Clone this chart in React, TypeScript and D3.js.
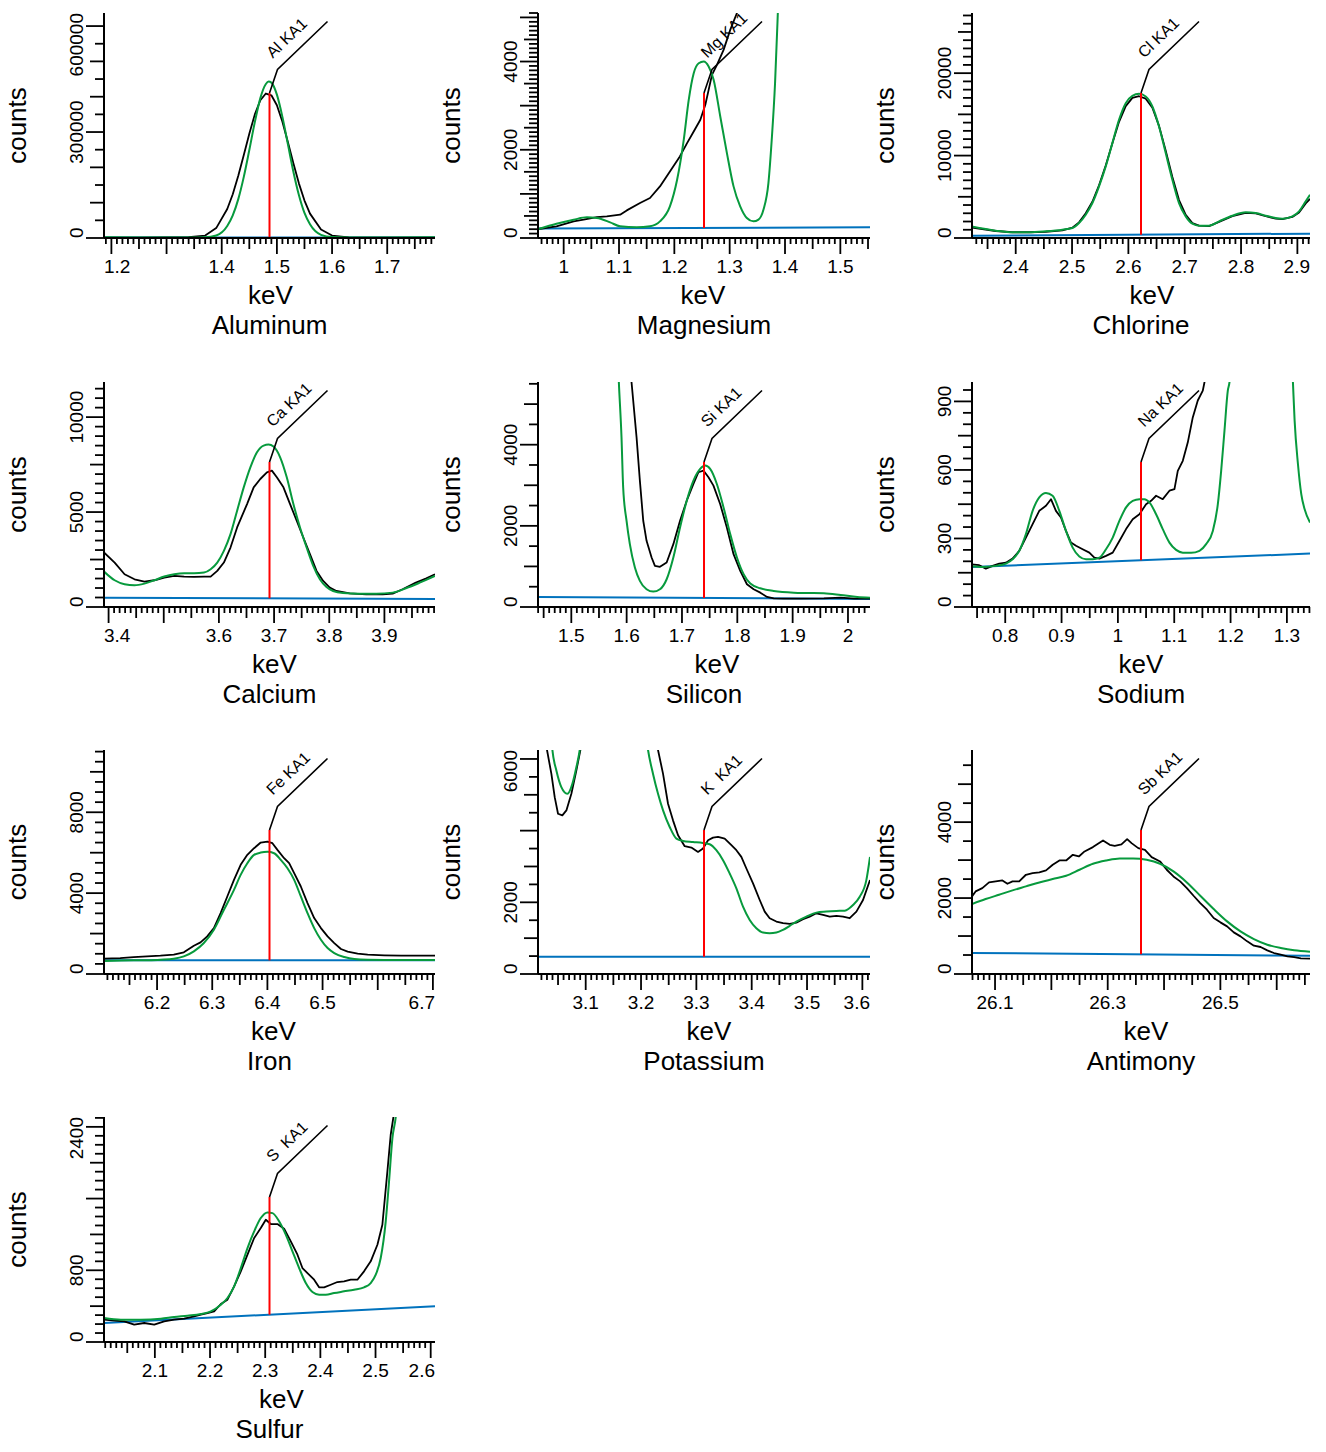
import React, { useEffect, useRef } from 'react';
import * as d3 from 'd3';

// Element panels, in reading order
const elementNames = ['Aluminum', 'Magnesium', 'Chlorine', 'Calcium', 'Silicon', 'Sodium', 'Iron', 'Potassium', 'Antimony', 'Sulfur'];
const lineSymbols = ['Al', 'Mg', 'Cl', 'Ca', 'Si', 'Na', 'Fe', 'K', 'Sb', 'S'];
// KA1 line energies (keV)
const lineEnergies = [1.4866, 1.2536, 2.6224, 3.6917, 1.7398, 1.041, 6.4038, 3.3138, 26.3591, 2.3078];
const countsMax = [637000, 5100, 27300, 11850, 5545, 985, 11080, 6250, 5900, 2510];

// tick labels that are printed on each axis
const keVTickLabels = [
  [1.2, 1.4, 1.5, 1.6, 1.7],
  [1, 1.1, 1.2, 1.3, 1.4, 1.5],
  [2.4, 2.5, 2.6, 2.7, 2.8, 2.9],
  [3.4, 3.6, 3.7, 3.8, 3.9],
  [1.5, 1.6, 1.7, 1.8, 1.9, 2],
  [0.8, 0.9, 1, 1.1, 1.2, 1.3],
  [6.2, 6.3, 6.4, 6.5, 6.7],
  [3.1, 3.2, 3.3, 3.4, 3.5, 3.6],
  [26.1, 26.3, 26.5],
  [2.1, 2.2, 2.3, 2.4, 2.5, 2.6],
];
const countTickLabels = [
  [0, 300000, 600000],
  [0, 2000, 4000],
  [0, 10000, 20000],
  [0, 5000, 10000],
  [0, 2000, 4000],
  [0, 300, 600, 900],
  [0, 4000, 8000],
  [0, 2000, 6000],
  [0, 2000, 4000],
  [0, 800, 2400],
];
// [minor, medium, major] count tick steps
const countTickSteps = [
  [50000, 100000, 300000],
  [100, 500, 1000],
  [1000, 5000, 10000],
  [500, 2500, 5000],
  [500, 1000, 2000],
  [50, 150, 300],
  [500, 2000, 4000],
  [500, 1000, 2000],
  [500, 1000, 2000],
  [100, 400, 800],
];

// [keV, counts] — measured spectrum, fitted curve and background
const aluminumMeasured = [[1.187, 1000], [1.25, 1200], [1.3, 1500], [1.34, 2500], [1.37, 7000], [1.39, 28000], [1.41, 82000], [1.42, 124000], [1.43, 176000], [1.44, 235000], [1.45, 295000], [1.46, 350000], [1.47, 390000], [1.48, 409000], [1.49, 404000], [1.5, 376000], [1.51, 329000], [1.52, 271000], [1.53, 211000], [1.54, 154000], [1.55, 106000], [1.56, 69000], [1.58, 24000], [1.6, 7000], [1.63, 2000], [1.7, 1000], [1.787, 800]];
const aluminumFit = [[1.187, 2000], [1.25, 1500], [1.3, 1500], [1.34, 1500], [1.37, 2000], [1.39, 7000], [1.41, 34000], [1.42, 64000], [1.43, 110000], [1.44, 173000], [1.45, 249000], [1.46, 328000], [1.47, 396000], [1.48, 436000], [1.485, 443000], [1.49, 440000], [1.5, 406000], [1.51, 343000], [1.52, 265000], [1.53, 187000], [1.54, 121000], [1.55, 71000], [1.56, 39000], [1.58, 9000], [1.6, 2500], [1.63, 1500], [1.7, 1500], [1.787, 2000]];
const aluminumBackground = [[1.1866, 1500], [1.7866, 1500]];

const magnesiumMeasured = [[0.955, 204], [0.987, 264], [1.018, 377], [1.036, 415], [1.06, 475], [1.078, 490], [1.102, 528], [1.114, 626], [1.138, 792], [1.156, 906], [1.174, 1170], [1.198, 1623], [1.21, 1849], [1.223, 2151], [1.235, 2415], [1.247, 2679], [1.256, 3019], [1.262, 3358], [1.268, 3698], [1.277, 3924], [1.289, 4264], [1.301, 4717], [1.313, 5094], [1.33, 5800], [1.4, 8000], [1.554, 9000]];
const magnesiumFit = [[0.955, 204], [0.987, 325], [1.018, 415], [1.042, 468], [1.06, 453], [1.084, 355], [1.102, 264], [1.132, 241], [1.156, 264], [1.174, 377], [1.192, 717], [1.205, 1321], [1.217, 2226], [1.226, 3132], [1.235, 3736], [1.244, 3962], [1.253, 4000], [1.262, 3887], [1.271, 3585], [1.283, 2755], [1.295, 1925], [1.307, 1170], [1.319, 717], [1.331, 453], [1.343, 377], [1.352, 415], [1.361, 641], [1.37, 1245], [1.376, 2226], [1.382, 3509], [1.387, 5094], [1.395, 8000], [1.554, 9000]];
const magnesiumBackground = [[0.9536, 215], [1.5536, 242]];

const chlorineMeasured = [[2.3201, 1300], [2.3645, 850], [2.3941, 700], [2.4237, 700], [2.4533, 760], [2.4828, 920], [2.5006, 1250], [2.5124, 1900], [2.5243, 3000], [2.5361, 4400], [2.5479, 6400], [2.5598, 8800], [2.5716, 11500], [2.5834, 14100], [2.5953, 16000], [2.6071, 17000], [2.6189, 17200], [2.6308, 16900], [2.6426, 15800], [2.6544, 13600], [2.6663, 10600], [2.6781, 7400], [2.6899, 4600], [2.7018, 2800], [2.7136, 1800], [2.7254, 1500], [2.7432, 1450], [2.761, 1950], [2.7846, 2650], [2.8083, 3050], [2.826, 3000], [2.8438, 2650], [2.8615, 2350], [2.8734, 2300], [2.8911, 2550], [2.903, 3100], [2.9148, 4200], [2.9224, 4750]];
const chlorineFit = [[2.3201, 1414], [2.3645, 889], [2.3941, 687], [2.4237, 687], [2.4533, 808], [2.4828, 1010], [2.5006, 1212], [2.5124, 1818], [2.5243, 2828], [2.5361, 4242], [2.5479, 6262], [2.5598, 8686], [2.5716, 11514], [2.5834, 14342], [2.5953, 16362], [2.6071, 17251], [2.6189, 17493], [2.6308, 17170], [2.6426, 15958], [2.6544, 13534], [2.6663, 10302], [2.6781, 7070], [2.6899, 4242], [2.7018, 2626], [2.7136, 1737], [2.7254, 1495], [2.7432, 1495], [2.761, 2020], [2.7846, 2707], [2.8083, 3111], [2.826, 3030], [2.8438, 2707], [2.8615, 2424], [2.8734, 2343], [2.8911, 2626], [2.903, 3232], [2.9148, 4444], [2.9224, 5252]];
const chlorineBackground = [[2.3224, 280], [2.9224, 530]];

const calciumMeasured = [[3.3917, 2869], [3.411, 2341], [3.429, 1725], [3.447, 1461], [3.465, 1338], [3.483, 1408], [3.501, 1549], [3.519, 1637], [3.537, 1602], [3.555, 1584], [3.573, 1602], [3.585, 1602], [3.597, 1901], [3.609, 2341], [3.621, 3133], [3.633, 4189], [3.651, 5421], [3.663, 6301], [3.675, 6741], [3.687, 7093], [3.696, 7181], [3.705, 6829], [3.717, 6301], [3.729, 5421], [3.741, 4541], [3.753, 3661], [3.765, 2781], [3.777, 1901], [3.789, 1373], [3.801, 1021], [3.813, 845], [3.837, 722], [3.867, 669], [3.897, 669], [3.915, 704], [3.933, 933], [3.957, 1285], [3.975, 1496], [3.9917, 1725]];
const calciumFit = [[3.3917, 1866], [3.411, 1408], [3.429, 1197], [3.447, 1144], [3.465, 1232], [3.483, 1408], [3.501, 1602], [3.519, 1725], [3.537, 1778], [3.555, 1778], [3.573, 1813], [3.585, 1989], [3.597, 2341], [3.609, 2957], [3.621, 3837], [3.633, 5069], [3.645, 6301], [3.657, 7357], [3.669, 8149], [3.681, 8501], [3.69, 8554], [3.699, 8448], [3.711, 7885], [3.723, 6829], [3.735, 5421], [3.747, 4189], [3.759, 3133], [3.771, 2165], [3.783, 1461], [3.795, 1056], [3.807, 845], [3.825, 739], [3.855, 704], [3.885, 704], [3.915, 757], [3.939, 986], [3.963, 1267], [3.9917, 1637]];
const calciumBackground = [[3.3917, 493], [3.9917, 422]];

const siliconMeasured = [[1.604, 6500], [1.6088, 5545], [1.6179, 4186], [1.6239, 3115], [1.63, 2126], [1.636, 1632], [1.6451, 1219], [1.6511, 1014], [1.6602, 989], [1.6723, 1096], [1.6844, 1549], [1.6965, 2126], [1.7086, 2620], [1.7207, 3032], [1.7297, 3321], [1.7388, 3362], [1.7479, 3197], [1.7569, 2991], [1.769, 2538], [1.7811, 1961], [1.7932, 1302], [1.8053, 890], [1.8174, 560], [1.8295, 437], [1.8416, 354], [1.8537, 247], [1.8658, 214], [1.8839, 206], [1.9141, 206], [1.9565, 214], [1.9867, 231], [2.0109, 206], [2.0398, 206]];
const siliconFit = [[1.5816, 7000], [1.5859, 5545], [1.5907, 4186], [1.5937, 2950], [1.5998, 2126], [1.6058, 1549], [1.6149, 972], [1.6239, 643], [1.636, 437], [1.6481, 379], [1.6602, 437], [1.6723, 684], [1.6844, 1220], [1.6965, 1961], [1.7086, 2620], [1.7207, 3115], [1.7328, 3403], [1.7418, 3485], [1.7509, 3403], [1.763, 3032], [1.7751, 2455], [1.7872, 1796], [1.7993, 1220], [1.8114, 808], [1.8235, 577], [1.8416, 461], [1.8658, 396], [1.9021, 354], [1.9262, 346], [1.9565, 338], [1.9867, 297], [2.0169, 247], [2.0398, 231]];
const siliconBackground = [[1.4398, 247], [2.0398, 200]];

const sodiumMeasured = [[0.741, 187], [0.7538, 183], [0.7656, 168], [0.7775, 180], [0.7893, 190], [0.8012, 194], [0.813, 212], [0.8249, 246], [0.8367, 304], [0.8486, 363], [0.8604, 421], [0.8723, 443], [0.8812, 472], [0.89, 421], [0.8989, 392], [0.9078, 333], [0.9167, 282], [0.9256, 268], [0.9374, 253], [0.9493, 238], [0.9582, 216], [0.9671, 212], [0.9789, 224], [0.9908, 238], [1.0026, 289], [1.0145, 341], [1.0263, 384], [1.0382, 406], [1.05, 450], [1.0589, 465], [1.0678, 487], [1.0796, 472], [1.0915, 509], [1.1004, 516], [1.1063, 596], [1.1152, 640], [1.1241, 721], [1.1329, 830], [1.1418, 904], [1.1507, 947], [1.1537, 984], [1.16, 1200], [1.2, 2500], [1.341, 3000]];
const sodiumFit = [[0.741, 178], [0.7597, 175], [0.7834, 180], [0.8012, 190], [0.813, 209], [0.8249, 246], [0.8367, 319], [0.8486, 421], [0.8604, 480], [0.8723, 499], [0.8841, 487], [0.896, 421], [0.9078, 333], [0.9197, 260], [0.9315, 221], [0.9434, 209], [0.9552, 209], [0.9671, 216], [0.9789, 253], [0.9908, 304], [1.0026, 377], [1.0145, 436], [1.0263, 465], [1.0382, 472], [1.047, 472], [1.0559, 458], [1.0678, 406], [1.0796, 341], [1.0915, 282], [1.1033, 250], [1.1152, 238], [1.13, 237], [1.1448, 246], [1.1566, 275], [1.1685, 333], [1.1774, 450], [1.1833, 596], [1.1892, 772], [1.1951, 947], [1.1981, 984], [1.21, 1600], [1.25, 3000], [1.3, 1600], [1.3107, 984], [1.3137, 816], [1.3196, 626], [1.3255, 494], [1.3315, 428], [1.341, 370]];
const sodiumBackground = [[0.741, 175], [1.341, 234]];

const ironMeasured = [[6.1038, 757], [6.1333, 790], [6.1576, 839], [6.1818, 872], [6.2061, 905], [6.2303, 955], [6.2485, 1070], [6.2667, 1399], [6.2788, 1564], [6.2909, 1860], [6.303, 2271], [6.3152, 3012], [6.3273, 3835], [6.3394, 4658], [6.3515, 5399], [6.3636, 5893], [6.3758, 6222], [6.3879, 6502], [6.4, 6551], [6.4091, 6469], [6.4182, 6140], [6.4303, 5728], [6.4394, 5481], [6.4485, 4987], [6.4606, 4329], [6.4727, 3506], [6.4848, 2765], [6.497, 2271], [6.5091, 1860], [6.5212, 1531], [6.5333, 1235], [6.5455, 1103], [6.5636, 1004], [6.5818, 955], [6.6121, 922], [6.6424, 905], [6.7038, 905]];
const ironFit = [[6.1038, 642], [6.1576, 675], [6.1818, 675], [6.2061, 708], [6.2303, 757], [6.2485, 872], [6.2667, 1119], [6.2848, 1531], [6.303, 2189], [6.3212, 3177], [6.3394, 4164], [6.3515, 4905], [6.3636, 5481], [6.3758, 5893], [6.3879, 6008], [6.4, 6041], [6.4121, 5975], [6.4242, 5646], [6.4364, 5234], [6.4485, 4658], [6.4606, 3835], [6.4727, 3012], [6.4848, 2271], [6.497, 1695], [6.5091, 1284], [6.5212, 1037], [6.5394, 839], [6.5576, 741], [6.5818, 708], [6.6424, 691], [6.7038, 691]];
const ironBackground = [[6.1038, 675], [6.7038, 675]];

const potassiumMeasured = [[3.022, 8000], [3.0301, 6250], [3.038, 5583], [3.044, 4935], [3.05, 4472], [3.0578, 4426], [3.0651, 4565], [3.0741, 5028], [3.0831, 5676], [3.0904, 6250], [3.1, 8000], [3.22, 8000], [3.2307, 6250], [3.2398, 5583], [3.2488, 4750], [3.2578, 4287], [3.2669, 3870], [3.2789, 3565], [3.291, 3528], [3.303, 3407], [3.312, 3500], [3.3211, 3731], [3.3301, 3805], [3.3392, 3824], [3.3512, 3778], [3.3633, 3593], [3.3723, 3454], [3.3813, 3268], [3.3904, 2944], [3.4024, 2528], [3.4145, 2065], [3.4235, 1741], [3.4325, 1556], [3.4446, 1463], [3.4566, 1417], [3.4687, 1398], [3.4807, 1435], [3.4928, 1528], [3.5048, 1602], [3.5169, 1694], [3.5289, 1648], [3.541, 1602], [3.553, 1620], [3.5651, 1602], [3.5771, 1556], [3.5892, 1741], [3.6012, 2065], [3.6138, 2620]];
const potassiumFit = [[3.032, 8000], [3.0398, 6250], [3.047, 5676], [3.056, 5213], [3.0669, 5028], [3.0759, 5305], [3.0831, 5768], [3.0892, 6250], [3.1, 8000], [3.2, 8000], [3.2127, 6250], [3.2217, 5583], [3.2307, 5028], [3.2398, 4565], [3.2518, 4102], [3.2639, 3778], [3.2759, 3713], [3.294, 3685], [3.312, 3657], [3.3241, 3620], [3.3361, 3454], [3.3482, 3176], [3.3602, 2805], [3.3723, 2389], [3.3843, 1880], [3.3964, 1509], [3.4084, 1278], [3.4205, 1157], [3.4325, 1139], [3.4446, 1157], [3.4566, 1231], [3.4687, 1343], [3.4807, 1463], [3.4988, 1602], [3.5169, 1713], [3.5349, 1741], [3.553, 1759], [3.5681, 1768], [3.5831, 1926], [3.5952, 2157], [3.6072, 2620], [3.6138, 3268]];
const potassiumBackground = [[3.0138, 481], [3.6138, 481]];

const antimonyMeasured = [[26.0591, 2044], [26.0655, 2175], [26.0774, 2263], [26.0893, 2412], [26.1012, 2439], [26.1131, 2465], [26.122, 2377], [26.131, 2439], [26.1429, 2439], [26.1548, 2614], [26.1667, 2658], [26.1786, 2675], [26.1905, 2728], [26.2024, 2877], [26.2143, 2991], [26.2262, 2991], [26.2381, 3140], [26.2488, 3096], [26.2589, 3228], [26.2738, 3342], [26.2827, 3430], [26.2917, 3518], [26.3036, 3404], [26.3125, 3377], [26.3244, 3412], [26.3345, 3553], [26.3423, 3447], [26.3542, 3316], [26.3661, 3272], [26.378, 3079], [26.3929, 2965], [26.4048, 2746], [26.4167, 2570], [26.4286, 2439], [26.4405, 2263], [26.4524, 2061], [26.4643, 1868], [26.4762, 1693], [26.4881, 1474], [26.5, 1360], [26.5119, 1254], [26.5238, 1096], [26.5357, 991], [26.5476, 860], [26.5595, 746], [26.5714, 711], [26.5833, 623], [26.5952, 553], [26.6071, 509], [26.619, 465], [26.631, 447], [26.6429, 412], [26.6591, 404]];
const antimonyFit = [[26.0591, 1842], [26.0833, 1974], [26.1071, 2088], [26.131, 2202], [26.1548, 2307], [26.1786, 2412], [26.2024, 2500], [26.2262, 2588], [26.25, 2746], [26.2738, 2904], [26.2976, 2991], [26.3214, 3044], [26.3452, 3044], [26.369, 3009], [26.3929, 2904], [26.4167, 2702], [26.4405, 2412], [26.4643, 2061], [26.4881, 1711], [26.5119, 1386], [26.5357, 1123], [26.5595, 921], [26.5833, 772], [26.6071, 684], [26.631, 623], [26.6591, 588]];
const antimonyBackground = [[26.0591, 553], [26.6591, 482]];

const sulfurMeasured = [[2.0078, 249], [2.0263, 238], [2.0444, 230], [2.0626, 193], [2.0807, 212], [2.0988, 193], [2.1169, 230], [2.135, 249], [2.1531, 260], [2.1713, 286], [2.1833, 305], [2.1954, 323], [2.2075, 342], [2.2196, 424], [2.2316, 472], [2.2437, 621], [2.2558, 788], [2.2679, 974], [2.28, 1160], [2.292, 1271], [2.3011, 1364], [2.3101, 1316], [2.3222, 1316], [2.3343, 1264], [2.3464, 1123], [2.3585, 974], [2.3675, 825], [2.3766, 769], [2.3887, 695], [2.3977, 610], [2.4068, 610], [2.4188, 639], [2.4309, 669], [2.443, 677], [2.4551, 695], [2.4671, 695], [2.4792, 788], [2.4913, 900], [2.5034, 1085], [2.5124, 1308], [2.5215, 1903], [2.5275, 2312], [2.5324, 2509], [2.54, 3000]];
const sulfurFit = [[2.0078, 268], [2.0384, 249], [2.0746, 249], [2.1109, 260], [2.135, 279], [2.1592, 294], [2.1833, 312], [2.2014, 342], [2.2196, 416], [2.2316, 491], [2.2437, 621], [2.2558, 825], [2.2679, 1048], [2.28, 1234], [2.292, 1383], [2.3041, 1446], [2.3132, 1438], [2.3252, 1346], [2.3373, 1197], [2.3494, 1011], [2.3615, 825], [2.3736, 658], [2.3856, 558], [2.3977, 528], [2.4098, 528], [2.4249, 546], [2.443, 565], [2.4611, 584], [2.4792, 610], [2.4913, 658], [2.5004, 751], [2.5094, 937], [2.5185, 1346], [2.5245, 1792], [2.5306, 2275], [2.5366, 2509], [2.545, 3200]];
const sulfurBackground = [[2.0078, 212], [2.6078, 398]];

const measuredSpectra = [aluminumMeasured, magnesiumMeasured, chlorineMeasured, calciumMeasured, siliconMeasured, sodiumMeasured, ironMeasured, potassiumMeasured, antimonyMeasured, sulfurMeasured];
const fitSpectra = [aluminumFit, magnesiumFit, chlorineFit, calciumFit, siliconFit, sodiumFit, ironFit, potassiumFit, antimonyFit, sulfurFit];
const backgrounds = [aluminumBackground, magnesiumBackground, chlorineBackground, calciumBackground, siliconBackground, sodiumBackground, ironBackground, potassiumBackground, antimonyBackground, sulfurBackground];

// layout
const WIDTH = 1326;
const HEIGHT = 1452;
const WINDOW = 0.3; // keV either side of the line
const COLS = [{ left: 104, right: 435 }, { left: 538, right: 870 }, { left: 972, right: 1310 }];
const ROWS = [{ top: 13, bottom: 238 }, { top: 382, bottom: 607 }, { top: 750, bottom: 974 }, { top: 1117, bottom: 1342 }];
const axisTitleNudge = [1, -1, 11, 5, 13, 0, 4, 5, 5, 12];
const FONT = "'Liberation Sans', Arial, Helvetica, sans-serif";
const GREEN = '#079a3d';
const BLUE = '#0072bd';
const RED = '#ff0000';

const panels = elementNames.map((name, i) => ({
  name,
  symbol: lineSymbols[i],
  energy: lineEnergies[i],
  countsMax: countsMax[i],
  keVLabels: keVTickLabels[i],
  countLabels: countTickLabels[i],
  countSteps: countTickSteps[i],
  measured: measuredSpectra[i],
  fit: fitSpectra[i],
  background: backgrounds[i],
}));

function drawPanel(svg: d3.Selection<SVGSVGElement, unknown, null, undefined>, p: typeof panels[number], i: number) {
  const { left, right } = COLS[i % 3];
  const { top, bottom } = ROWS[Math.floor(i / 3)];
  const x = d3.scaleLinear().domain([p.energy - WINDOW, p.energy + WINDOW]).range([left, right]);
  const y = d3.scaleLinear().domain([0, p.countsMax]).range([bottom, top]);

  const g = svg.append('g');
  const clipId = `plot-clip-${i}`;
  g.append('clipPath').attr('id', clipId)
    .append('rect').attr('x', left).attr('y', top).attr('width', right - left).attr('height', bottom - top);

  const plot = g.append('g').attr('clip-path', `url(#${clipId})`).attr('fill', 'none');
  const straight = d3.line<number[]>().x(d => x(d[0])).y(d => y(d[1]));
  const smooth = d3.line<number[]>().x(d => x(d[0])).y(d => y(d[1])).curve(d3.curveMonotoneX);

  plot.append('path').datum(p.background).attr('d', straight).attr('stroke', BLUE).attr('stroke-width', 2);
  plot.append('path').datum(p.measured).attr('d', straight).attr('stroke', '#000').attr('stroke-width', 1.8).attr('stroke-linejoin', 'round');
  plot.append('path').datum(p.fit).attr('d', smooth).attr('stroke', GREEN).attr('stroke-width', 2);

  // line marker: red from the background up, then the tag leader
  const bg = d3.scaleLinear().domain([p.background[0][0], p.background[1][0]]).range([p.background[0][1], p.background[1][1]]);
  const lx = x(p.energy);
  const tagY = top + 80;
  g.append('line').attr('x1', lx).attr('x2', lx).attr('y1', y(bg(p.energy))).attr('y2', tagY)
    .attr('stroke', RED).attr('stroke-width', 2);
  const kink = [lx + 8, tagY - 23.5];
  const end = [kink[0] + 50, kink[1] - 48];
  g.append('path').attr('d', `M${lx},${tagY}L${kink[0]},${kink[1]}L${end[0]},${end[1]}`)
    .attr('fill', 'none').attr('stroke', '#000').attr('stroke-width', 1.6);
  const ang = Math.atan2(end[1] - kink[1], end[0] - kink[0]);
  const ux = Math.cos(ang), uy = Math.sin(ang);
  const tx = kink[0] + 4 * ux + 11 * uy;
  const ty = kink[1] + 4 * uy - 11 * ux;
  g.append('text').attr('transform', `translate(${tx},${ty}) rotate(${(ang * 180) / Math.PI})`)
    .attr('font-size', 16).attr('font-family', FONT).style('white-space', 'pre')
    .text(`${p.symbol.padEnd(2, ' ')} KA1`);

  // axes
  const axes = g.append('g').attr('stroke', '#000');
  axes.append('line').attr('x1', left).attr('x2', left).attr('y1', top).attr('y2', bottom).attr('stroke-width', 2);
  axes.append('line').attr('x1', left).attr('x2', right).attr('y1', bottom).attr('y2', bottom).attr('stroke-width', 2);

  const [lo, hi] = x.domain();
  for (let k = Math.ceil(lo * 100 - 1e-6); k <= Math.floor(hi * 100 + 1e-6); k++) {
    const len = k % 10 === 0 ? 16 : k % 5 === 0 ? 11 : 6;
    const px = x(k / 100);
    axes.append('line').attr('x1', px).attr('x2', px).attr('y1', bottom).attr('y2', bottom + len).attr('stroke-width', 1.8);
  }
  const [minor, mid, major] = p.countSteps;
  for (let v = 0; v <= p.countsMax + 1e-6; v += minor) {
    const len = v % major === 0 ? 18 : v % mid === 0 ? 14 : 9;
    const py = y(v);
    axes.append('line').attr('x1', left - len).attr('x2', left).attr('y1', py).attr('y2', py).attr('stroke-width', 1.8);
  }

  const labels = g.append('g').attr('font-family', FONT).attr('fill', '#000');
  p.keVLabels.forEach(v => {
    const t = labels.append('text').attr('font-size', 19).attr('text-anchor', 'middle')
      .attr('y', bottom + 35).text(String(v));
    const w = (t.node() as SVGTextElement).getComputedTextLength();
    const cx = Math.min(Math.max(x(v), left + w / 2), right - w / 2);
    t.attr('x', cx);
  });
  p.countLabels.forEach(v => {
    const t = labels.append('text').attr('font-size', 19).attr('text-anchor', 'middle').text(String(v));
    const w = (t.node() as SVGTextElement).getComputedTextLength();
    const cy = Math.min(Math.max(y(v), top + w / 2), bottom - w / 2);
    t.attr('transform', `translate(${left - 21},${cy}) rotate(-90)`);
  });

  labels.append('text').attr('font-size', 26).attr('text-anchor', 'middle')
    .attr('transform', `translate(${left - 78},${(top + bottom) / 2}) rotate(-90)`).text('counts');
  labels.append('text').attr('font-size', 26).attr('text-anchor', 'middle')
    .attr('x', (left + right) / 2 + axisTitleNudge[i]).attr('y', bottom + 66).text('keV');
  labels.append('text').attr('font-size', 26).attr('text-anchor', 'middle')
    .attr('x', (left + right) / 2).attr('y', bottom + 96).text(p.name);
}

export default function App() {
  const ref = useRef<SVGSVGElement>(null);

  useEffect(() => {
    const svg = d3.select(ref.current as SVGSVGElement);
    svg.selectAll('*').remove();
    panels.forEach((p, i) => drawPanel(svg, p, i));
  }, []);

  return (
    <svg ref={ref} width={WIDTH} height={HEIGHT}
      style={{ position: 'absolute', left: 0, top: 0, background: '#fff' }} />
  );
}
